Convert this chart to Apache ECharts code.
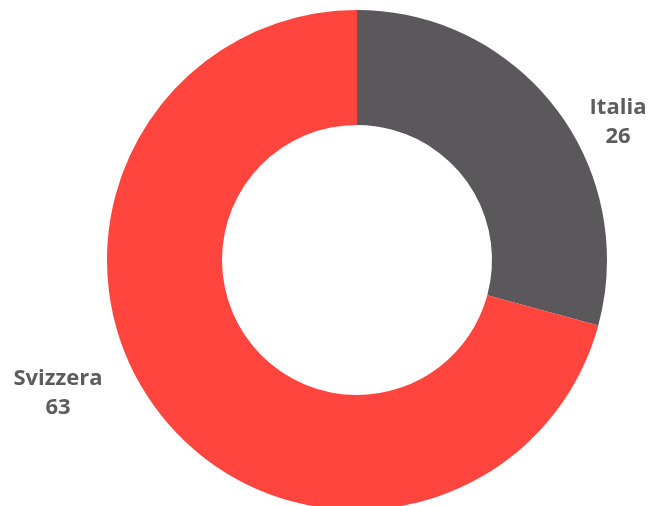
<!DOCTYPE html>
<html><head><meta charset="utf-8">
<script src="https://cdn.jsdelivr.net/npm/echarts@6/dist/echarts.min.js"></script>
<style>html,body{margin:0;padding:0;background:#fff}#c{width:651px;height:506px}</style>
</head><body><div id="c"></div>
<script>
const categories = ['Italia', 'Svizzera'];
const values = [26, 63];
const colors = ['#5a585b', '#ff453d'];
const labelPos = [[618, 122], [58, 393]];

const chart = echarts.init(document.getElementById('c'), null, {renderer: 'canvas'});
chart.setOption({
  animation: false,
  series: [{
    type: 'pie',
    center: [357, 260],
    radius: [135, 250],
    startAngle: 90,
    clockwise: true,
    data: categories.map((n, i) => ({name: n, value: values[i], itemStyle: {color: colors[i]}})),
    label: {
      show: true,
      position: 'outside',
      formatter: '{b}\n{c}',
      fontFamily: 'Open Sans',
      fontWeight: 'bold',
      fontSize: 22,
      lineHeight: 29,
      color: '#5d5d5d',
      align: 'center',
      overflow: 'none'
    },
    labelLine: {show: false},
    labelLayout: function (p) {
      const pos = labelPos[p.dataIndex];
      return {x: pos[0], y: pos[1], align: 'center', verticalAlign: 'middle'};
    },
    emphasis: {disabled: true}
  }]
});
</script></body></html>
